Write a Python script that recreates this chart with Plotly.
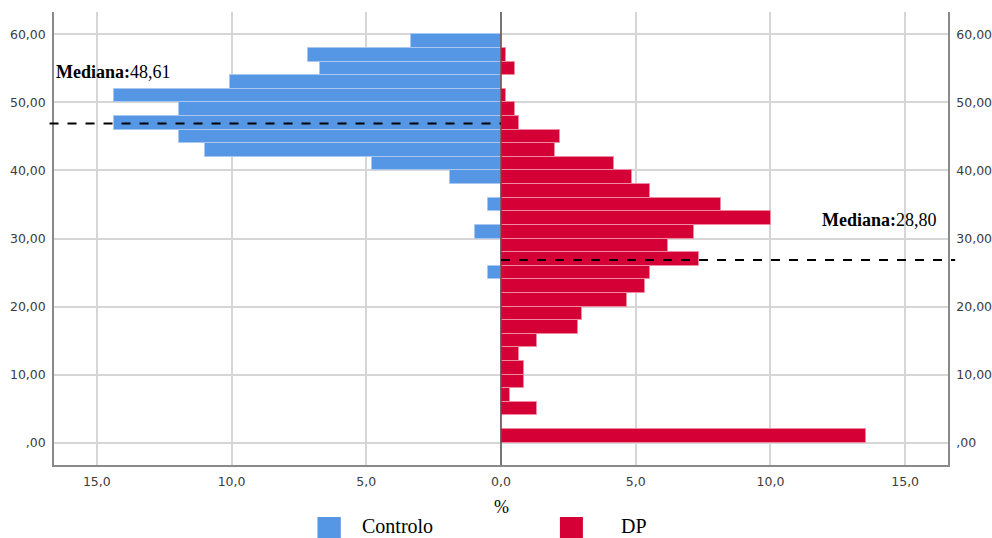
import plotly.graph_objects as go

# ---- data ----
bin_lower = list(range(0, 60, 2))          # bins of width 2, from 0 to 60
bin_width = 2
controlo_pct = [0, 0, 0, 0, 0, 0, 0, 0, 0, 0,
                0, 0, 0.48, 0, 0, 0.96, 0, 0.48, 0, 1.91,
                4.78, 11.0, 11.96, 14.35, 11.96, 14.35, 10.05, 6.70, 7.18, 3.35]
dp_pct = [13.53, 0, 1.35, 0.34, 0.84, 0.84, 0.67, 1.35, 2.85, 3.02,
          4.68, 5.35, 5.53, 7.35, 6.18, 7.17, 10.02, 8.18, 5.53, 4.85,
          4.18, 2.02, 2.18, 0.67, 0.51, 0.17, 0, 0.51, 0.17, 0]
series_names = ["Controlo", "DP"]
median_labels = ["48,61", "28,80"]
median_line_y = [46.9, 26.85]
x_tickvals = [-15, -10, -5, 0, 5, 10, 15]
x_ticktext = ["15,0", "10,0", "5,0", "0,0", "5,0", "10,0", "15,0"]
y_tickvals = [0, 10, 20, 30, 40, 50, 60]
y_ticktext = [",00", "10,00", "20,00", "30,00", "40,00", "50,00", "60,00"]

BLUE = "#5597E5"
RED = "#D50036"
XR = [-16.59, 16.59]
YR = [-3.28, 63.28]

centers = [b + bin_width / 2 for b in bin_lower]

fig = go.Figure()
fig.add_trace(go.Bar(
    y=centers, x=[-v for v in controlo_pct], orientation="h", width=bin_width,
    name=series_names[0], marker=dict(color=BLUE, line=dict(color="#a8c8f2", width=1)),
    showlegend=False, hoverinfo="skip"))
fig.add_trace(go.Bar(
    y=centers, x=dp_pct, orientation="h", width=bin_width, yaxis="y2",
    name=series_names[1], marker=dict(color=RED, line=dict(color="#ee8aa2", width=1)),
    showlegend=False, hoverinfo="skip"))

tick_font = dict(family="DejaVu Sans", size=12.5, color="#3c3c3c")
serif = "Liberation Serif"

common = dict(zeroline=False, showline=True, linecolor="#8a8a8a", linewidth=1.5,
              ticks="outside", ticklen=4, tickcolor="rgba(0,0,0,0)",
              tickfont=tick_font, fixedrange=True, automargin=False)

fig.update_layout(
    width=992, height=538,
    margin=dict(l=54, r=44, t=12, b=73),
    paper_bgcolor="white", plot_bgcolor="white",
    barmode="overlay", bargap=0,
    xaxis=dict(range=XR, tickvals=x_tickvals, ticktext=x_ticktext,
               showgrid=True, gridcolor="#d6d6d6", gridwidth=1.5, **common),
    yaxis=dict(range=YR, tickvals=y_tickvals, ticktext=y_ticktext,
               showgrid=True, gridcolor="#d6d6d6", gridwidth=1.5, **common),
    yaxis2=dict(range=YR, tickvals=y_tickvals, ticktext=y_ticktext,
                overlaying="y", side="right", showgrid=False, **common),
)

def xpaper(v):
    return (v - XR[0]) / (XR[1] - XR[0])

def ypaper(v):
    return (v - YR[0]) / (YR[1] - YR[0])

# centre line
fig.add_shape(type="line", xref="paper", yref="paper",
              x0=xpaper(0), x1=xpaper(0), y0=0, y1=1,
              line=dict(color="#555555", width=1.5), layer="above")

# median lines
fig.add_shape(type="line", xref="paper", yref="paper",
              x0=-0.005, x1=xpaper(0), y0=ypaper(median_line_y[0]), y1=ypaper(median_line_y[0]),
              line=dict(color="black", width=2, dash="dash"), layer="above")
fig.add_shape(type="line", xref="paper", yref="paper",
              x0=xpaper(0), x1=1.008, y0=ypaper(median_line_y[1]), y1=ypaper(median_line_y[1]),
              line=dict(color="black", width=2, dash="dash"), layer="above")

# median labels
fig.add_annotation(xref="paper", yref="y", x=0.0, y=54.46, xanchor="left", yanchor="middle",
                   text="<b>Mediana:</b>" + median_labels[0], showarrow=False,
                   font=dict(family=serif, size=18, color="black"))
fig.add_annotation(xref="x", yref="y", x=11.85, y=32.7, xanchor="left", yanchor="middle",
                   text="<b>Mediana:</b>" + median_labels[1], showarrow=False,
                   font=dict(family=serif, size=18, color="black"))

# axis title "%"
fig.add_annotation(xref="paper", yref="paper", x=xpaper(0), y=-0.0927,
                   xanchor="center", yanchor="middle", text="%", showarrow=False,
                   font=dict(family=serif, size=18, color="black"))

# legend
legend_items = [(0.2947, 0.3208, 0.342, BLUE, series_names[0]),
                (0.5659, 0.5916, 0.6315, RED, series_names[1])]
for x0, x1, xt, col, name in legend_items:
    fig.add_shape(type="rect", xref="paper", yref="paper",
                  x0=x0, x1=x1, y0=-0.17, y1=-0.1148,
                  fillcolor=col, line=dict(width=0))
    fig.add_annotation(xref="paper", yref="paper", x=xt, y=-0.135,
                       xanchor="left", yanchor="middle", text=name, showarrow=False,
                       font=dict(family=serif, size=20, color="black"))

fig.write_html("out.html", config={"displayModeBar": False},
               post_script="document.body.style.margin='0px';document.body.style.overflow='hidden';")
